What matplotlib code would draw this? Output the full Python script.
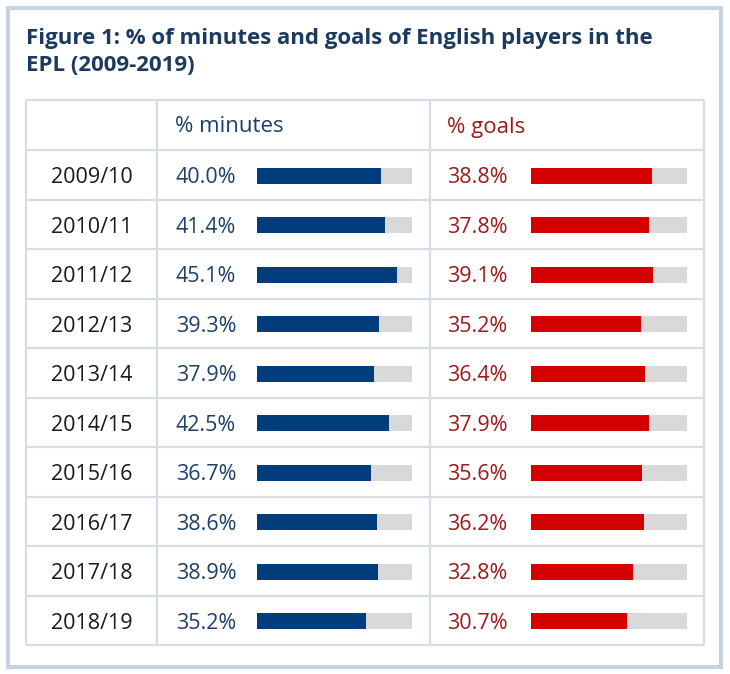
import matplotlib
matplotlib.use("Agg")
import matplotlib.pyplot as plt
from matplotlib.patches import Rectangle

seasons = ["2009/10", "2010/11", "2011/12", "2012/13", "2013/14",
           "2014/15", "2015/16", "2016/17", "2017/18", "2018/19"]
pct_minutes = [40.0, 41.4, 45.1, 39.3, 37.9, 42.5, 36.7, 38.6, 38.9, 35.2]
pct_goals = [38.8, 37.8, 39.1, 35.2, 36.4, 37.9, 35.6, 36.2, 32.8, 30.7]
scale_max = 50
headers = ["% minutes", "% goals"]
title = "Figure 1: % of minutes and goals of English players in the\nEPL (2009-2019)"

W, H = 730, 674
plt.rcParams['font.family'] = ['Open Sans', 'DejaVu Sans']
fig = plt.figure(figsize=(W / 100, H / 100), dpi=100)
fig.patch.set_facecolor("white")

# base axes in pixel coordinates
base = fig.add_axes([0, 0, 1, 1])
base.set_xlim(0, W)
base.set_ylim(H, 0)
base.axis("off")

# outer frame
base.add_patch(Rectangle((8, 8), 713, 659, fill=False, edgecolor="#c9d3df", lw=3))

# title
base.text(26, 28, title, ha="left", va="top", fontsize=16, fontweight="bold",
          color="#1c3a60", linespacing=1.35)

# table geometry
tx0, tx1 = 26, 704
col1, col2 = 157, 430
ty0, hdr_bottom, ty1 = 100, 150, 645
n = len(seasons)
row_h = (ty1 - hdr_bottom) / n
grid_c = "#d8dde4"
for y in [ty0, hdr_bottom] + [hdr_bottom + row_h * (i + 1) for i in range(n)]:
    base.plot([tx0, tx1], [y, y], color=grid_c, lw=1.6, solid_capstyle="butt")
for x in [tx0, col1, col2, tx1]:
    base.plot([x, x], [ty0, ty1], color=grid_c, lw=1.6, solid_capstyle="butt")

blue_txt = "#1d3f6b"
red_txt = "#9e1a1a"
fs = 15.5
base.text(175, 127, headers[0], ha="left", va="center", fontsize=16, color=blue_txt)
base.text(447, 127, headers[1], ha="left", va="center", fontsize=16, color=red_txt)

for i, s in enumerate(seasons):
    yc = hdr_bottom + row_h * (i + 0.5) + 3
    base.text((tx0 + col1) / 2, yc, s, ha="center", va="center", fontsize=fs, color="#1a1a1a")
    base.text(176, yc, f"{pct_minutes[i]:.1f}%", ha="left", va="center", fontsize=fs, color=blue_txt)
    base.text(447, yc, f"{pct_goals[i]:.1f}%", ha="left", va="center", fontsize=fs, color=red_txt)


def bar_axes(x0, x1, values, color):
    ax = fig.add_axes([x0 / W, 1 - (ty1 + 1) / H, (x1 - x0) / W, (ty1 - hdr_bottom) / H])
    ax.set_xlim(0, scale_max)
    ax.set_ylim(n - 0.5, -0.5)
    ax.axis("off")
    ax.patch.set_alpha(0)
    ys = list(range(n))
    ax.barh(ys, [scale_max] * n, height=0.33, color="#d9d9d9", left=0)
    ax.barh(ys, values, height=0.33, color=color, left=0)
    return ax


bar_axes(257, 412, pct_minutes, "#003d7a")
bar_axes(531, 687, pct_goals, "#d40000")

fig.savefig("out.png", dpi=100, facecolor="white")
